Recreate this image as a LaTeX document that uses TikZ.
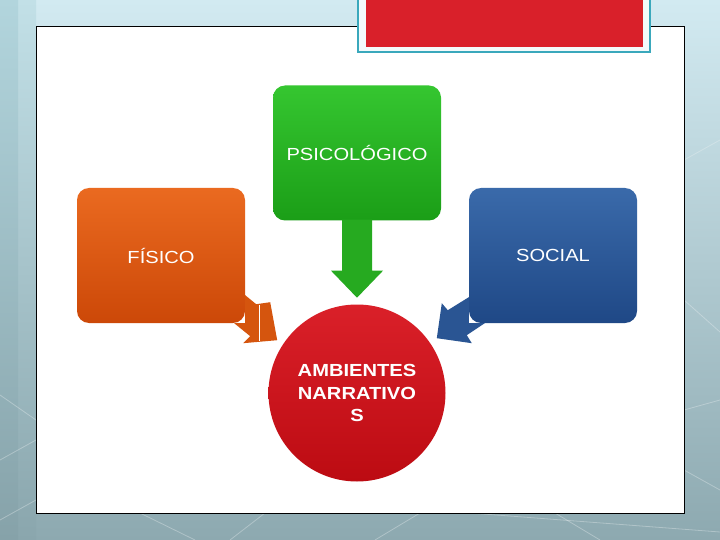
\documentclass[tikz,border=0pt]{standalone}
\usepackage{fontspec}
\newfontfamily\lblfont[FakeStretch=1.15]{Liberation Sans}
\usetikzlibrary{calc}
\definecolor{bgtop}{HTML}{D2EAF1}
\definecolor{bgbot}{HTML}{8DA9B0}
\definecolor{bgltop}{HTML}{B2D5DD}
\definecolor{bglbot}{HTML}{86A2A9}
\definecolor{bgmtop}{HTML}{C2E0E7}
\definecolor{bgmbot}{HTML}{8AA6AD}
\definecolor{gtop}{HTML}{35C630}
\definecolor{gbot}{HTML}{1B9E17}
\definecolor{garrow}{HTML}{26AA20}
\definecolor{otop}{HTML}{EA6A20}
\definecolor{obot}{HTML}{CC4808}
\definecolor{oarrow}{HTML}{D5550E}
\definecolor{btop}{HTML}{3A6AAA}
\definecolor{bbot}{HTML}{1F4886}
\definecolor{barrow}{HTML}{2A5593}
\definecolor{rtop}{HTML}{DA2029}
\definecolor{rbot}{HTML}{BC0B12}
\definecolor{teal}{HTML}{3AA8BC}
\definecolor{titlered}{HTML}{D9202A}
\tikzset{
  catbox/.style={rounded corners=12pt, minimum width=168pt, minimum height=135pt,
    inner sep=0pt, text=white, font=\lblfont\fontsize{17.5}{22.5}\selectfont},
  faint/.style={draw=white!85!bgbot, line width=0.8pt},
}
\begin{document}
\begin{tikzpicture}[x=1pt,y=-1pt]
\useasboundingbox (0,0) rectangle (720,540);
% background
\fill[top color=bgtop, bottom color=bgbot] (0,0) rectangle (720,540);
\fill[top color=bgmtop, bottom color=bgmbot] (0,0) rectangle (36,540);
\fill[top color=bgltop, bottom color=bglbot] (0,0) rectangle (18,540);
\begin{scope}[opacity=0.35]
\draw[faint] (0,395) -- (36,420);
\draw[faint] (0,460) -- (36,440);
\draw[faint] (0,520) -- (36,500);
\draw[faint] (140,513) -- (195,540);
\draw[faint] (230,540) -- (265,513);
\draw[faint] (375,540) -- (420,513);
\draw[faint] (555,513) -- (600,540);
\draw[faint] (470,513) -- (720,532);
\draw[faint] (684,160) -- (720,140);
\draw[faint] (684,300) -- (720,332);
\draw[faint] (684,410) -- (720,400);
\draw[faint] (684,470) -- (720,490);
\end{scope}
% white panel
\node[draw=black, line width=0.9pt, fill=white, minimum width=648pt, minimum height=487pt,
  inner sep=0pt] (panel) at (360,269.5) {};
% title box
\node[draw=teal, line width=2.2pt, fill=white!94!teal, minimum width=292pt, minimum height=62pt,
  inner sep=0pt] (title) at (504,21) {};
\node[fill=titlered, minimum width=277pt, minimum height=57pt, inner sep=0pt] (titlein)
  at (504.5,18.5) {};
% boxes
\node[catbox, top color=gtop, bottom color=gbot] (psico) at (357,153) {PSICOLÓGICO};
\node[catbox, top color=otop, bottom color=obot] (fisico) at (161,255.5) {FÍSICO};
\node[catbox, top color=btop, bottom color=bbot] (social) at (553,255.5) {SOCIAL};
% circle
\node[circle, minimum size=177pt, inner sep=0pt, top color=rtop, bottom color=rbot,
  text=white, align=center, font=\lblfont\bfseries\fontsize{17.5}{22.5}\selectfont]
  (amb) at (357,393) {AMBIENTES\\NARRATIVO\\S};
% green arrow
\fill[garrow]
  ($(psico.south)+(-15,-1)$) -- ($(psico.south)+(15,-1)$) -- ($(psico.south)+(15,50)$)
  -- ($(psico.south)+(26,50)$) -- ($(psico.south)+(0,77)$) -- ($(psico.south)+(-26,50)$)
  -- ($(psico.south)+(-15,50)$) -- cycle;
% orange arrow
\fill[oarrow]
  ($(fisico.south east)+(0,-28)$) -- ($(fisico.south east)+(11,-19)$)
  -- ($(fisico.south east)+(25,-21)$) -- ($(fisico.south east)+(32,17)$)
  -- ($(fisico.south east)+(-2,20)$) -- ($(fisico.south east)+(5,13)$)
  -- ($(fisico.south east)+(-11,0)$) -- ($(fisico.south east)+(0,0)$) -- cycle;
\draw[white, line width=1pt] ($(fisico.south east)+(14,-18)$) -- ($(fisico.south east)+(14,18)$);
% blue arrow
\fill[barrow]
  ($(social.south west)+(0,-26)$) -- ($(social.south west)+(-21,-13)$)
  -- ($(social.south west)+(-27,-20)$) -- ($(social.south west)+(-32,15)$)
  -- ($(social.south west)+(3,20)$) -- ($(social.south west)+(-2,12)$)
  -- ($(social.south west)+(16,0)$) -- ($(social.south west)+(0,0)$) -- cycle;
\end{tikzpicture}
\end{document}
